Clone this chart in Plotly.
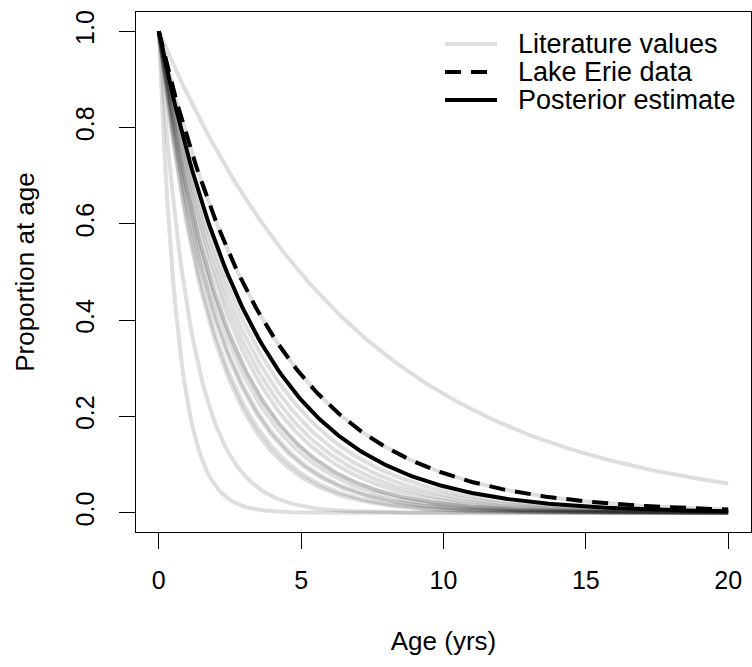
import numpy as np
import plotly.graph_objects as go

# Ages (years) at which survival is evaluated
ages = np.round(np.arange(0, 20.01, 0.1), 2)

# Instantaneous total mortality rates (per yr)
literature_Z = [1.45, 0.85, 0.52, 0.50, 0.46, 0.45, 0.42, 0.40, 0.40,
                0.37, 0.35, 0.33, 0.31, 0.25, 0.14]
lake_erie_Z = 0.25
posterior_Z = 0.29

legend_labels = ["Literature values", "Lake Erie data", "Posterior estimate"]

W, H = 752, 667
ML, MR, MT, MB = 136, 1, 12, 135
PW, PH = W - ML - MR, H - MT - MB


def px(x):
    return (x - ML) / PW


def py(y):
    return (H - MB - y) / PH


def survival(z):
    return np.exp(-z * ages)


fig = go.Figure()

gray = "rgba(0,0,0,0.13)"
for z in literature_Z:
    fig.add_trace(go.Scatter(x=ages, y=survival(z), mode="lines",
                             line=dict(color=gray, width=4),
                             showlegend=False, hoverinfo="skip"))

fig.add_trace(go.Scatter(x=ages, y=survival(lake_erie_Z), mode="lines",
                         line=dict(color="black", width=4, dash="16px,10px"),
                         showlegend=False, name="Lake Erie data"))
fig.add_trace(go.Scatter(x=ages, y=survival(posterior_Z), mode="lines",
                         line=dict(color="black", width=4),
                         showlegend=False, name="Posterior estimate"))

font = "Liberation Sans, Arial, sans-serif"

# manual legend (R-style)
leg_y = [44, 72, 100]
leg_styles = [dict(color="rgb(222,222,222)", width=4),
              dict(color="black", width=4, dash="16px,10px"),
              dict(color="black", width=4)]
for lab, yy, st in zip(legend_labels, leg_y, leg_styles):
    fig.add_shape(type="line", xref="paper", yref="paper",
                  x0=px(445), x1=px(497), y0=py(yy), y1=py(yy), line=st)
    fig.add_annotation(xref="paper", yref="paper", x=px(516), y=py(yy),
                       text=lab, showarrow=False, xanchor="left",
                       yanchor="middle",
                       font=dict(family=font, size=27, color="black"))

axis_common = dict(showline=True, linecolor="black", linewidth=1.3,
                   mirror=True, ticks="outside", ticklen=16, tickwidth=1.3,
                   tickcolor="black", showgrid=False, zeroline=False,
                   tickfont=dict(family=font, size=25, color="black"))

fig.update_layout(
    width=W, height=H,
    margin=dict(l=ML, r=MR, t=MT, b=MB),
    plot_bgcolor="white", paper_bgcolor="white",
    font=dict(family=font, color="black"),
    xaxis=dict(range=[-0.8, 20.8], tickvals=[0, 5, 10, 15, 20],
               ticklabelstandoff=10,
               title=dict(text="Age (yrs)", standoff=38,
                          font=dict(family=font, size=26)),
               **axis_common),
    yaxis=dict(range=[-0.04, 1.04], tickvals=[0, 0.2, 0.4, 0.6, 0.8, 1.0],
               ticktext=["0.0", "0.2", "0.4", "0.6", "0.8", "1.0"],
               tickangle=-90, ticklabelstandoff=15,
               title=dict(text="Proportion at age", standoff=28,
                          font=dict(family=font, size=26)),
               **axis_common),
)

fig.write_html("out.html")
